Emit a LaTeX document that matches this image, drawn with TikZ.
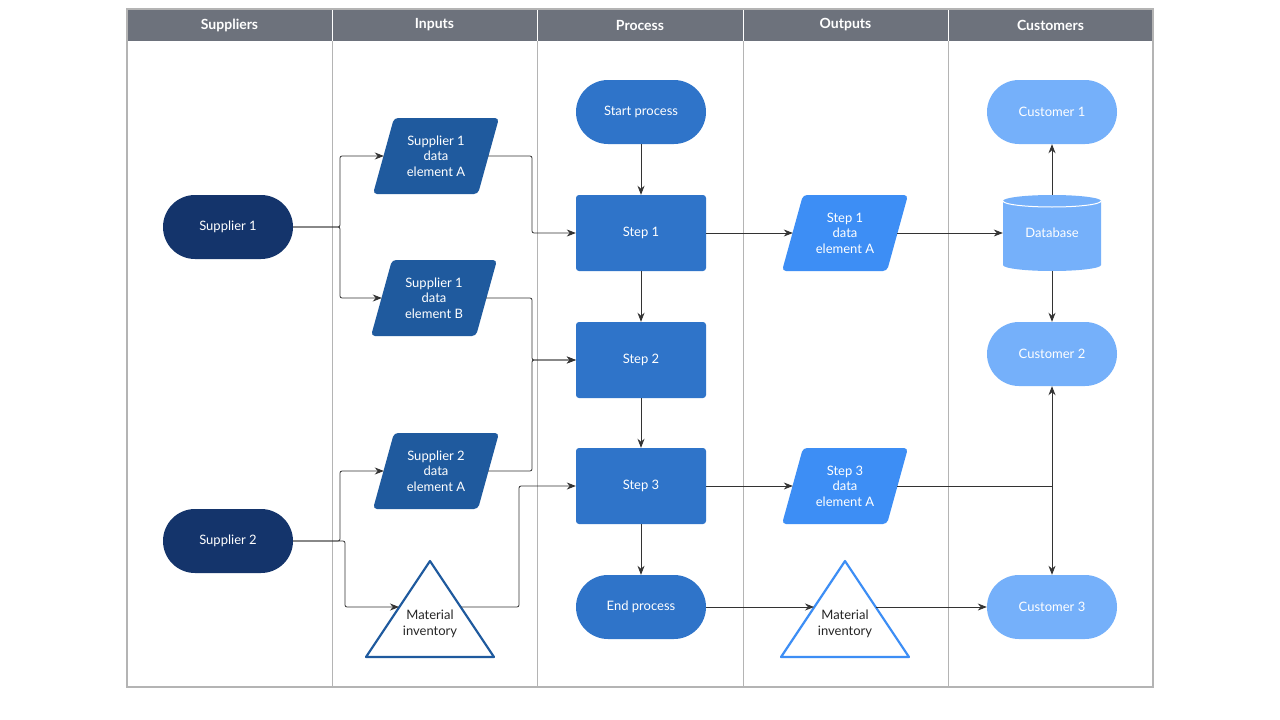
\documentclass[tikz,border=0pt]{standalone}
\usepackage{fontspec}
\setmainfont{Lato}
\usetikzlibrary{arrows.meta}
\definecolor{navy}{HTML}{14346B}
\definecolor{sdata}{HTML}{1F5A9E}
\definecolor{proc}{HTML}{2F74C9}
\definecolor{outc}{HTML}{3D8EF5}
\definecolor{cust}{HTML}{75B0FA}
\definecolor{hdr}{HTML}{6D727C}
\definecolor{grid}{HTML}{B4B4B4}
\definecolor{ln}{HTML}{333333}
\tikzset{
 txt/.style={text=white,font=\fontsize{13}{15.5}\selectfont,align=center},
 stad/.style={txt,rounded corners=32pt,minimum width=130pt,minimum height=64pt},
 stepbox/.style={txt,fill=proc,rounded corners=3pt,minimum width=130pt,minimum height=76pt},
 pbox/.style={txt,minimum width=104pt,minimum height=76pt,inner sep=0pt},
 hd/.style={text=white,font=\fontsize{14}{16}\selectfont\bfseries},
 con/.style={draw=ln,line width=0.8pt,-{Stealth[length=9pt,width=7pt]},rounded corners=2pt},
 conl/.style={draw=ln,line width=0.8pt,rounded corners=2pt}
}
\newcommand{\parall}[5]{%
 \fill[#4,rounded corners=4pt] (#2-42,#3-38) -- (#2+63,#3-38) -- (#2+42,#3+38) -- (#2-63,#3+38) -- cycle;
 \node[pbox] (#1) at (#2,#3) {#5};}
\begin{document}
\begin{tikzpicture}[x=1pt,y=-1pt]
\useasboundingbox (0,0) rectangle (1280,720);
\fill[white] (0,0) rectangle (1280,720);
% frame
\fill[hdr] (127,9) rectangle (1153,41);
\foreach \xx in {332,537,743,948} \draw[grid,line width=1pt] (\xx,9) -- (\xx,687);
\draw[white,line width=1pt] \foreach \xx in {332,537,743,948} {(\xx,9) -- (\xx,41)};
\draw[grid,line width=1.2pt] (127,9) rectangle (1153,687);
\node[hd] (h1) at (229.5,25) {Suppliers};
\node[hd] (h2) at (434.5,25) {Inputs};
\node[hd] (h3) at (640,25) {Process};
\node[hd] (h4) at (845.5,25) {Outputs};
\node[hd] (h5) at (1050.5,25) {Customers};
% suppliers
\node[stad,fill=navy] (sup1) at (228,227) {Supplier 1};
\node[stad,fill=navy] (sup2) at (228,541) {Supplier 2};
% inputs
\parall{s1a}{436}{156}{sdata}{Supplier 1\\data\\element A}
\parall{s1b}{434}{298}{sdata}{Supplier 1\\data\\element B}
\parall{s2a}{436}{471}{sdata}{Supplier 2\\data\\element A}
\draw[sdata,line width=2.2pt,line join=round] (430,561) -- (494,657) -- (366,657) -- cycle;
\node[font=\fontsize{13}{15.5}\selectfont,align=center,text=black!85] (mi1) at (430,624) {Material\\inventory};
\coordinate (mi1l) at (399,607);
\coordinate (mi1r) at (461,607);
% process
\node[stad,fill=proc] (start) at (641,112) {Start process};
\node[stepbox] (st1) at (641,233) {Step 1};
\node[stepbox] (st2) at (641,360) {Step 2};
\node[stepbox] (st3) at (641,486) {Step 3};
\node[stad,fill=proc] (end) at (641,607) {End process};
% outputs
\parall{o1}{845}{233}{outc}{Step 1\\data\\element A}
\parall{o3}{845}{486}{outc}{Step 3\\data\\element A}
\draw[outc,line width=2.2pt,line join=round] (845,561) -- (909,657) -- (781,657) -- cycle;
\node[font=\fontsize{13}{15.5}\selectfont,align=center,text=black!85] (mi2) at (845,624) {Material\\inventory};
\coordinate (mi2l) at (814,607);
\coordinate (mi2r) at (876,607);
% customers
\node[stad,fill=cust] (c1) at (1052,112) {Customer 1};
\node[stad,fill=cust] (c2) at (1052,354) {Customer 2};
\node[stad,fill=cust] (c3) at (1052,607) {Customer 3};
\fill[cust] (1003,201) -- (1003,265) arc[start angle=180,end angle=0,x radius=49,y radius=6] -- (1101,201) arc[start angle=0,end angle=-180,x radius=49,y radius=6] -- cycle;
\draw[white,line width=1pt] (1003,201) arc[start angle=180,end angle=0,x radius=49,y radius=6];
\node[txt,minimum width=98pt,minimum height=76pt,inner sep=0pt] (db) at (1052,233) {\raisebox{-8pt}{Database}};
% connectors
\draw[con] (sup1.east) -- (340,227) |- (s1a.west);
\draw[con] (sup1.east) -- (340,227) |- (s1b.west);
\draw[con] (s1a.east) -- (532,156) |- (st1.west);
\draw[con] (s1b.east) -- (532,298) |- (st2.west);
\draw[con] (s2a.east) -- (532,471) |- (st2.west);
\draw[con] (sup2.east) -- (340,541) |- (s2a.west);
\draw[con] (sup2.east) -- (345,541) |- (mi1l);
\draw[con] (mi1r) -- (519,607) |- (st3.west);
\draw[con] (start) -- (st1);
\draw[con] (st1) -- (st2);
\draw[con] (st2) -- (st3);
\draw[con] (st3) -- (end);
\draw[con] (st1) -- (o1);
\draw[con] (o1) -- (db);
\draw[con] (db.north) -- (c1.south);
\draw[con] (db.south) -- (c2.north);
\draw[con] (st3) -- (o3);
\draw[conl] (o3.east) -- (1052,486);
\draw[con] (1052,486) -- (c2.south);
\draw[con] (1052,486) -- (c3.north);
\draw[con] (end) -- (mi2l);
\draw[con] (mi2r) -- (c3);
\end{tikzpicture}
\end{document}
